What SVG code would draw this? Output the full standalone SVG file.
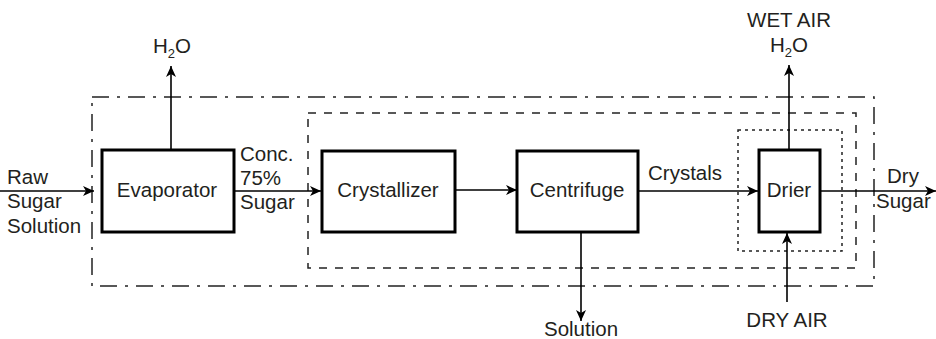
<svg xmlns="http://www.w3.org/2000/svg" width="936" height="339" viewBox="0 0 936 339">
<style>
text{font-family:"Liberation Sans",Arial,sans-serif;font-size:20.5px;fill:#231f20}
.box{fill:none;stroke:#000;stroke-width:3}
.ln{fill:none;stroke:#000;stroke-width:1.6;marker-end:url(#ah)}
.dd{fill:none;stroke:#222;stroke-width:1.5;stroke-dasharray:17 8 3 8}
.da{fill:none;stroke:#222;stroke-width:1.5;stroke-dasharray:8 8}
.do{fill:none;stroke:#222;stroke-width:1.5;stroke-dasharray:3 4}
.sub{font-size:13px}
</style>
<defs>
<marker id="ah" markerWidth="12" markerHeight="10" refX="11" refY="5" orient="auto" markerUnits="userSpaceOnUse">
<path d="M0,0 L11,5 L0,10 L3,5 Z" fill="#000"/>
</marker>
</defs>
<g id="boundaries">
<rect class="dd" x="92" y="97" width="782" height="189"/>
<rect class="da" x="308" y="113" width="548" height="155"/>
<rect class="do" x="738" y="130" width="104" height="121"/>
</g>
<g id="connectors">
<line class="ln" x1="0" y1="191" x2="94" y2="191"/>
<line class="ln" x1="171" y1="150" x2="171" y2="66"/>
<line class="ln" x1="234" y1="191" x2="321" y2="191"/>
<line class="ln" x1="455" y1="190" x2="517" y2="190"/>
<line class="ln" x1="581" y1="232" x2="581" y2="321"/>
<line class="ln" x1="638" y1="191" x2="758" y2="191"/>
<line class="ln" x1="789" y1="150" x2="789" y2="65"/>
<line class="ln" x1="787" y1="302" x2="787" y2="233"/>
<line class="ln" x1="820" y1="191" x2="936" y2="191"/>
</g>
<g id="evaporator">
<rect class="box" x="102" y="150" width="132" height="82"/>
<text x="167" y="197" text-anchor="middle">Evaporator</text>
</g>
<g id="crystallizer">
<rect class="box" x="322" y="151" width="133" height="81"/>
<text x="388" y="197" text-anchor="middle">Crystallizer</text>
</g>
<g id="centrifuge">
<rect class="box" x="517" y="151" width="121" height="81"/>
<text x="577" y="197" text-anchor="middle">Centrifuge</text>
</g>
<g id="drier">
<rect class="box" x="759" y="150" width="61" height="82"/>
<text x="789" y="197" text-anchor="middle">Drier</text>
</g>
<g id="labels">
<text x="7" y="184">Raw</text>
<text x="7" y="208">Sugar</text>
<text x="7" y="233">Solution</text>
<text x="172" y="53" text-anchor="middle">H<tspan class="sub" dy="5">2</tspan><tspan dy="-5">O</tspan></text>
<text x="240" y="161">Conc.</text>
<text x="240" y="185">75%</text>
<text x="240" y="209">Sugar</text>
<text x="581" y="336" text-anchor="middle">Solution</text>
<text x="648" y="180">Crystals</text>
<text x="789" y="27" text-anchor="middle">WET AIR</text>
<text x="789" y="52" text-anchor="middle">H<tspan class="sub" dy="5">2</tspan><tspan dy="-5">O</tspan></text>
<text x="787" y="327" text-anchor="middle">DRY AIR</text>
<text x="887" y="183">Dry</text>
<text x="876" y="208">Sugar</text>
</g>
</svg>
